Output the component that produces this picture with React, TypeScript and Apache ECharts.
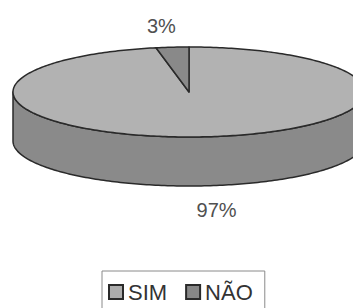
import React, { useEffect, useRef } from "react";
import * as echarts from "echarts";

const categories = ["SIM", "NÃO"];
const values = [97, 3];
const topColors = ["#b2b2b2", "#898989"];
const sideColors = ["#8a8a8a", "#6e6e6e"];
const legendColors = ["#adadad", "#878787"];

export default function App() {
  const ref = useRef<HTMLDivElement>(null);
  useEffect(() => {
    document.body.style.margin = "0";
    const chart = echarts.init(ref.current!, null, { renderer: "svg" });
    const total = values.reduce((a, b) => a + b, 0);
    const CX = 189, CY = 92, RX = 176, RY = 45, DEPTH = 49;
    const pt = (t: number, dy = 0) => [CX + RX * Math.sin(t), CY - RY * Math.cos(t) + dy];
    const arcPts = (a: number, b: number, dy = 0) => {
      const pts: number[][] = [];
      const n = Math.max(2, Math.ceil(((b - a) * 180) / Math.PI));
      for (let i = 0; i <= n; i++) pts.push(pt(a + ((b - a) * i) / n, dy));
      return pts;
    };
    const toPath = (pts: number[][]) =>
      pts.map((p, i) => (i === 0 ? "M" : "L") + p[0].toFixed(2) + " " + p[1].toFixed(2)).join(" ") + " Z";

    const series = categories.map((name, si) => {
      const before = values.slice(0, si).reduce((a, b) => a + b, 0);
      return {
        type: "custom",
        name,
        coordinateSystem: "none",
        itemStyle: { color: legendColors[si] },
        data: [[values[si]]],
        z: si === 0 ? 2 : 3,
        renderItem: (params: any, api: any) => {
          const v = api.value(0) as number;
          const a0 = (before / total) * Math.PI * 2;
          const a1 = ((before + v) / total) * Math.PI * 2;
          const children: any[] = [];
          const s0 = Math.max(a0, Math.PI / 2);
          const s1 = Math.min(a1, (Math.PI * 3) / 2);
          if (s1 > s0) {
            const top = arcPts(s0, s1);
            const bot = arcPts(s0, s1, DEPTH).reverse();
            children.push({
              type: "path",
              shape: { pathData: toPath(top.concat(bot)) },
              style: { fill: sideColors[si], stroke: "#2a2a2a", lineWidth: 1.5, lineJoin: "round" },
            });
          }
          const face = [[CX, CY]].concat(arcPts(a0, a1));
          children.push({
            type: "path",
            shape: { pathData: toPath(face) },
            style: { fill: topColors[si], stroke: "#2a2a2a", lineWidth: 1.5, lineJoin: "round" },
          });
          const m = (a0 + a1) / 2;
          const rim = pt(m, Math.cos(m) < 0 ? DEPTH : 0);
          const lx = rim[0] + 11 * Math.sign(Math.sin(m));
          const ly = rim[1] + (Math.cos(m) > 0 ? -21 : 24);
          children.push({
            type: "text",
            x: lx,
            y: ly,
            style: {
              text: Math.round((v / total) * 100) + "%",
              fill: "#505050",
              font: "20px 'Liberation Sans', Arial, sans-serif",
              align: "center",
              verticalAlign: "middle",
            },
          });
          return { type: "group", children };
        },
      };
    });

    chart.setOption({
      animation: false,
      backgroundColor: "#ffffff",
      legend: {
        data: categories,
        left: 102,
        top: 271,
        orient: "horizontal",
        icon: "rect",
        itemWidth: 14,
        itemHeight: 14,
        itemGap: 18,
        padding: [10, 12, 16, 6],
        borderColor: "#8a8a8a",
        borderWidth: 1,
        itemStyle: { borderColor: "#2a2a2a", borderWidth: 2 },
        textStyle: { fontSize: 22, color: "#333333", fontFamily: "'Liberation Sans', Arial, sans-serif" },
        selectedMode: false,
      },
      series,
    } as any);
    return () => chart.dispose();
  }, []);
  return <div ref={ref} style={{ width: 353, height: 308 }} />;
}
